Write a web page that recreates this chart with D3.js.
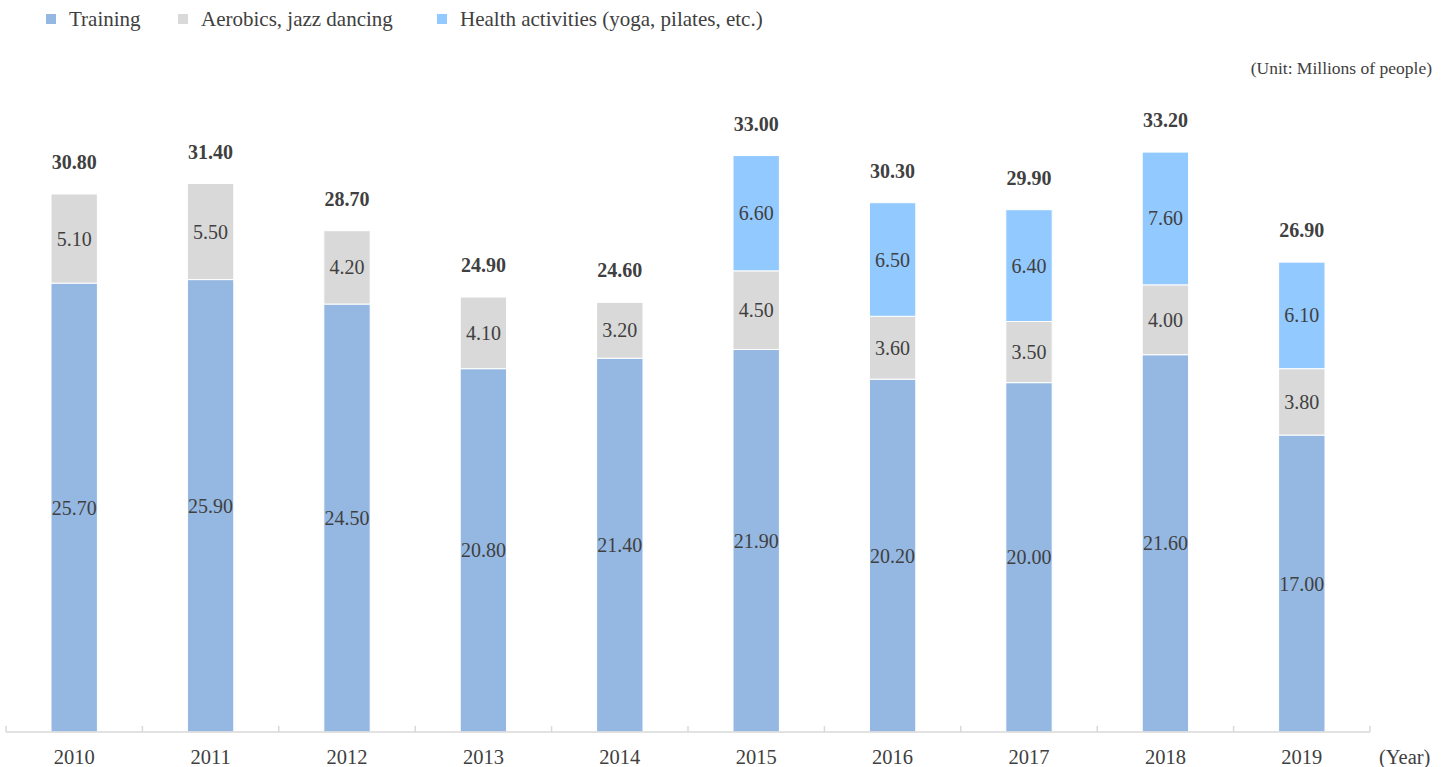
<!DOCTYPE html>
<html><head><meta charset="utf-8">
<script src="https://cdn.jsdelivr.net/npm/d3@7"></script>
<style>body{margin:0;background:#fff;} svg{display:block;}</style>
</head><body>
<script>
const years = ["2010","2011","2012","2013","2014","2015","2016","2017","2018","2019"];
const training = [25.7,25.9,24.5,20.8,21.4,21.9,20.2,20.0,21.6,17.0];
const aerobics = [5.1,5.5,4.2,4.1,3.2,4.5,3.6,3.5,4.0,3.8];
const health = [null,null,null,null,null,6.6,6.5,6.4,7.6,6.1];
const totals = [30.8,31.4,28.7,24.9,24.6,33.0,30.3,29.9,33.2,26.9];
const seriesNames = ["Training","Aerobics, jazz dancing","Health activities (yoga, pilates, etc.)"];
const colors = ["#95B8E3","#D9D9D9","#92C9FF"];

const W=1451,H=767;
const svg=d3.select("body").append("svg").attr("width",W).attr("height",H);
const font="'Liberation Serif','Times New Roman',serif";

const x=d3.scaleBand().domain(years).range([6,1370]).paddingInner(0.66).paddingOuter(0.33);
const y=d3.scaleLinear().domain([0,30.8]).range([732,194]);

const rows=years.map((yr,i)=>({year:yr,Training:training[i],Aerobics:aerobics[i],Health:health[i]||0}));
const stack=d3.stack().keys(["Training","Aerobics","Health"])(rows);
const rawSeries=[training,aerobics,health];

stack.forEach((s,si)=>{
  const g=svg.append("g");
  s.forEach((d,i)=>{
    const v=rawSeries[si][i];
    if(v==null) return;
    g.append("rect").attr("x",x(years[i])).attr("width",x.bandwidth())
      .attr("y",y(d[1])).attr("height",y(d[0])-y(d[1]))
      .attr("fill",colors[si]).attr("stroke","#fff").attr("stroke-width",1);
    g.append("text").attr("x",x(years[i])+x.bandwidth()/2).attr("y",(y(d[0])+y(d[1]))/2)
      .attr("text-anchor","middle").attr("dominant-baseline","central")
      .attr("font-family",font).attr("font-size",20).attr("fill","#404040")
      .text(v.toFixed(2));
  });
});

// totals
svg.append("g").selectAll("text").data(totals).join("text")
  .attr("x",(d,i)=>x(years[i])+x.bandwidth()/2).attr("y",d=>y(d)-32)
  .attr("text-anchor","middle").attr("dominant-baseline","central")
  .attr("font-family",font).attr("font-size",20).attr("font-weight","bold").attr("fill","#404040")
  .text(d=>d.toFixed(2));

// axis
const xAxisScale=d3.scalePoint().domain(d3.range(years.length+1)).range([6,1370]);
const ax=svg.append("g");
ax.append("line").attr("x1",6).attr("x2",1370).attr("y1",732).attr("y2",732).attr("stroke","#d9d9d9").attr("stroke-width",1.5);
ax.selectAll("line.t").data(d3.range(years.length+1)).join("line").attr("class","t")
  .attr("x1",d=>xAxisScale(d)).attr("x2",d=>xAxisScale(d)).attr("y1",726).attr("y2",732)
  .attr("stroke","#d9d9d9").attr("stroke-width",1.5);
ax.selectAll("text").data(years).join("text")
  .attr("x",d=>x(d)+x.bandwidth()/2).attr("y",757)
  .attr("text-anchor","middle").attr("dominant-baseline","central")
  .attr("font-family",font).attr("font-size",20.5).attr("fill","#404040").text(d=>d);

svg.append("text").attr("x",1379).attr("y",757).attr("dominant-baseline","central")
  .attr("font-family",font).attr("font-size",20.5).attr("fill","#404040").text("(Year)");
svg.append("text").attr("x",1432).attr("y",68).attr("text-anchor","end").attr("dominant-baseline","central")
  .attr("font-family",font).attr("font-size",17.5).attr("fill","#404040").text("(Unit: Millions of people)");

// legend
const legX=[46,178,437];
seriesNames.forEach((n,i)=>{
  svg.append("rect").attr("x",legX[i]).attr("y",14).attr("width",10).attr("height",10).attr("fill",colors[i]);
  svg.append("text").attr("x",legX[i]+23).attr("y",19).attr("dominant-baseline","central")
    .attr("font-family",font).attr("font-size",21).attr("fill","#404040").text(n);
});
</script>
</body></html>
